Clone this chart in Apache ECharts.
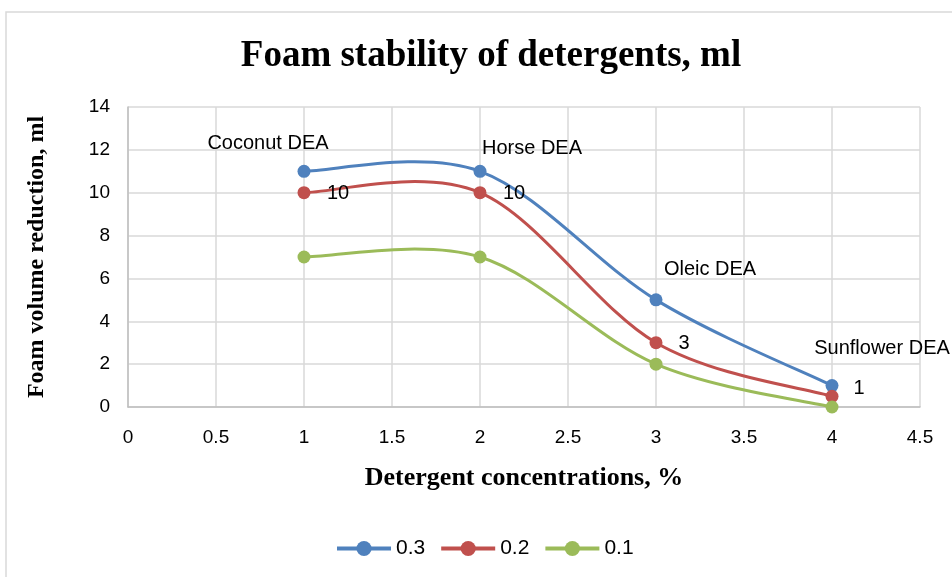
<!DOCTYPE html>
<html>
<head>
<meta charset="utf-8">
<script src="https://cdn.jsdelivr.net/npm/echarts@6/dist/echarts.min.js"></script>
<style>
    html, body { margin: 0; padding: 0; background: #fff; }
    #chart { width: 952px; height: 577px; }
</style>
</head>
<body>
<div id="chart"></div>
<script>
// 数据
var concentrations = [1, 2, 3, 4];
var seriesNames = ['0.3', '0.2', '0.1'];
var values03 = [11, 11, 5, 1];
var values02 = [10, 10, 3, 0.5];
var values01 = [7, 7, 2, 0];
var labels03 = ['Coconut DEA', 'Horse DEA', 'Oleic DEA', 'Sunflower DEA'];
var labels02 = ['10', '10', '3', '1'];

var colors = ['#4f81bd', '#c0504d', '#9bbb59'];
var labelFont = 'Liberation Sans, Arial, sans-serif';
var serifFont = 'Liberation Serif, Times New Roman, serif';

// label offsets (relative to point centre)
var offsets03 = [[-36, -28], [52, -23], [54, -30], [50, -37]];
var offsets02 = [[34, 1], [34, 1], [28, 1], [27, -8]];

function buildData(values, labels, offsets) {
    var out = [];
    for (var i = 0; i < values.length; i++) {
        var item = { value: [concentrations[i], values[i]] };
        if (labels) {
            item.label = {
                show: true,
                position: 'inside',
                offset: offsets[i],
                formatter: labels[i],
                color: '#000',
                fontSize: 20,
                fontFamily: labelFont
            };
        }
        out.push(item);
    }
    return out;
}

// 点 + 标签
function pointSeries(name, color, data) {
    return {
        name: name,
        type: 'line',
        symbol: 'circle',
        symbolSize: 13,
        itemStyle: { color: color },
        lineStyle: { color: color, width: 3, opacity: 0 },
        data: data,
        z: 3
    };
}

// excel风格的平滑曲线 (catmull-rom -> bezier)
function curveSeries(color, values) {
    return {
        type: 'custom',
        silent: true,
        z: 2,
        data: [0],
        renderItem: function (params, api) {
            var pts = [];
            for (var i = 0; i < values.length; i++) {
                pts.push(api.coord([concentrations[i], values[i]]));
            }
            var children = [];
            for (var j = 0; j < pts.length - 1; j++) {
                var p0 = pts[Math.max(j - 1, 0)];
                var p1 = pts[j];
                var p2 = pts[j + 1];
                var p3 = pts[Math.min(j + 2, pts.length - 1)];
                children.push({
                    type: 'bezierCurve',
                    shape: {
                        x1: p1[0], y1: p1[1],
                        x2: p2[0], y2: p2[1],
                        cpx1: p1[0] + (p2[0] - p0[0]) / 6,
                        cpy1: p1[1] + (p2[1] - p0[1]) / 6,
                        cpx2: p2[0] - (p3[0] - p1[0]) / 6,
                        cpy2: p2[1] - (p3[1] - p1[1]) / 6
                    },
                    style: { stroke: color, lineWidth: 3, fill: null }
                });
            }
            return { type: 'group', children: children };
        }
    };
}

var chart = echarts.init(document.getElementById('chart'));

var option = {
    backgroundColor: '#fff',
    animation: false,
    graphic: [{
        type: 'rect',
        shape: { x: 6, y: 12, width: 1000, height: 600 },
        style: { fill: 'none', stroke: '#d9d9d9', lineWidth: 1.5 },
        silent: true
    }],
    title: {
        text: 'Foam stability of detergents, ml',
        left: 486,
        top: 33,
        textAlign: 'center',
        textStyle: {
            fontFamily: serifFont,
            fontWeight: 'bold',
            fontSize: 37,
            color: '#000'
        }
    },
    legend: {
        top: 533,
        left: 330,
        itemWidth: 54,
        itemHeight: 19,
        itemGap: 14,
        data: seriesNames,
        lineStyle: { width: 4, opacity: 1 },
        textStyle: { fontSize: 21, fontFamily: labelFont, color: '#000' }
    },
    grid: {
        left: 128,
        right: 32,
        top: 107,
        bottom: 170,
        containLabel: false
    },
    xAxis: {
        type: 'value',
        min: 0,
        max: 4.5,
        interval: 0.5,
        name: 'Detergent concentrations, %',
        nameLocation: 'middle',
        nameGap: 58,
        nameTextStyle: {
            fontFamily: serifFont,
            fontWeight: 'bold',
            fontSize: 26,
            color: '#000'
        },
        axisLine: { show: true, lineStyle: { color: '#bfbfbf', width: 1.5 } },
        axisTick: { show: false },
        axisLabel: { margin: 21, fontSize: 19, fontFamily: labelFont, color: '#000' },
        splitLine: { show: true, lineStyle: { color: '#d9d9d9', width: 1.5 } }
    },
    yAxis: {
        type: 'value',
        min: 0,
        max: 14,
        interval: 2,
        name: 'Foam volume reduction, ml',
        nameLocation: 'middle',
        nameGap: 79,
        nameTextStyle: {
            fontFamily: serifFont,
            fontWeight: 'bold',
            fontSize: 24,
            color: '#000'
        },
        axisLine: { show: true, lineStyle: { color: '#bfbfbf', width: 1.5 } },
        axisTick: { show: false },
        axisLabel: { margin: 18, fontSize: 19, fontFamily: labelFont, color: '#000' },
        splitLine: { show: true, lineStyle: { color: '#d9d9d9', width: 1.5 } }
    },
    series: [
        curveSeries(colors[0], values03),
        curveSeries(colors[1], values02),
        curveSeries(colors[2], values01),
        pointSeries(seriesNames[0], colors[0], buildData(values03, labels03, offsets03)),
        pointSeries(seriesNames[1], colors[1], buildData(values02, labels02, offsets02)),
        pointSeries(seriesNames[2], colors[2], buildData(values01, null, null))
    ]
};

chart.setOption(option);
</script>
</body>
</html>
